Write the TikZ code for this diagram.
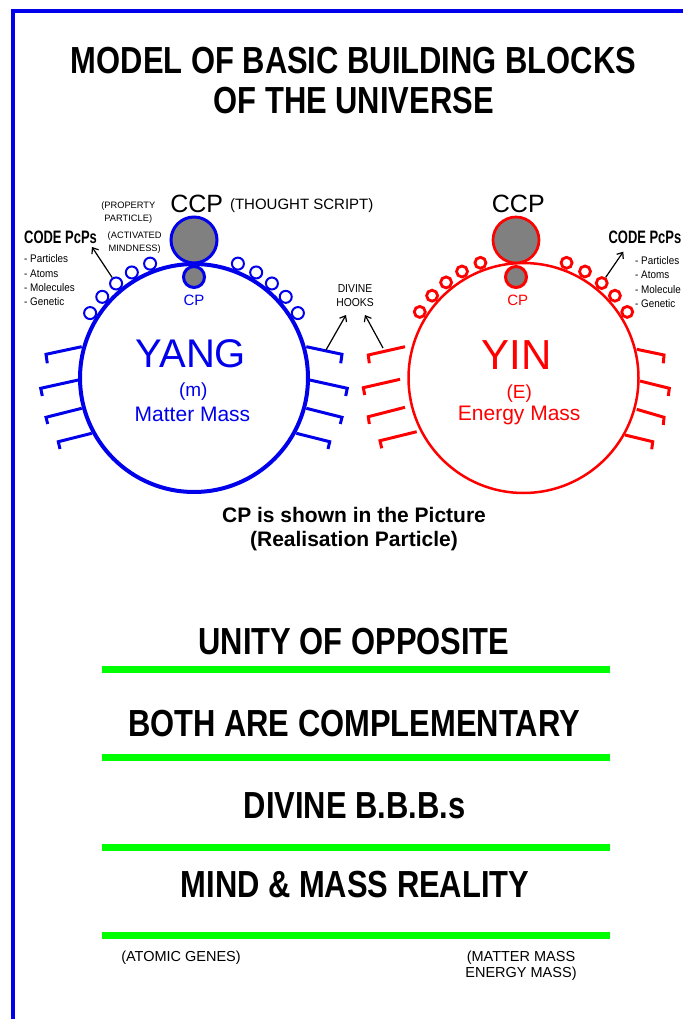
\documentclass[tikz,border=0pt]{standalone}
\usepackage{fontspec}
\setmainfont{Liberation Sans}
\newfontfamily\headfont[FakeStretch=0.82]{Liberation Sans}
\newfontfamily\codefont[FakeStretch=0.72]{Liberation Sans}
\newfontfamily\narrowfont[FakeStretch=0.9]{Liberation Sans}
\usetikzlibrary{calc,arrows.meta}

\definecolor{yangblue}{RGB}{0,0,235}
\definecolor{yinred}{RGB}{255,0,0}
\definecolor{bargreen}{RGB}{0,255,0}
\definecolor{cpgray}{RGB}{128,128,128}

\newcommand{\fsz}[2]{\fontsize{#1}{#2}\selectfont}

\tikzset{
	framestroke/.style={draw=yangblue, line width=4pt},
	yangring/.style={circle, draw=yangblue, line width=4pt, minimum size=228pt, inner sep=0pt},
	yinring/.style={circle, draw=yinred, line width=2.5pt, minimum size=230pt, inner sep=0pt},
	ccpball/.style={circle, fill=cpgray, line width=3pt, minimum size=46pt, inner sep=0pt},
	cpball/.style={circle, fill=cpgray, line width=3pt, minimum size=21pt, inner sep=0pt},
	yangbead/.style={circle, draw=yangblue, fill=white, line width=2pt, minimum size=12pt, inner sep=0pt},
	yinbead/.style={circle, draw=yinred, fill=white, line width=2.8pt, minimum size=11pt, inner sep=0pt},
	yanghook/.style={draw=yangblue, line width=3pt},
	yinhook/.style={draw=yinred, line width=3pt},
	greenbar/.style={draw=bargreen, line width=7pt},
	pointer/.style={-{Straight Barb[length=5pt,width=8pt]}, line width=1.2pt},
	headline/.style={font=\headfont\bfseries\fsz{37.7}{40}, inner sep=0pt},
	codehead/.style={font=\codefont\bfseries\fsz{18}{18}, inner sep=0pt},
	codeitem/.style={font=\narrowfont\fsz{11}{11}, inner sep=0pt, anchor=west},
	notetext/.style={font=\fsz{9.3}{12.8}, align=center, inner sep=0pt},
	plaintext/.style={font=\fsz{14.5}{16}, align=center, inner sep=0pt}
}

\begin{document}
\begin{tikzpicture}[x=1pt, y=-1pt]

	\useasboundingbox (0,0) rectangle (683,1019);

	% frame
	\draw[framestroke] (13,1019) -- (13,11) -- (683,11);

	% heading
	\node[headline] (title) at (353.5,60.5) {MODEL OF BASIC BUILDING BLOCKS};
	\node[headline] (subtitle) at (353.7,100.5) {OF THE UNIVERSE};

	% yang
	\node[yangring] (yang) at (194,378) {};
	\foreach \a/\b/\c/\d/\e/\f in {81.7/346.7/46/354.3/47.3/363.3, 78.3/380/40.7/388.3/42.3/396,
		81.7/408.3/46/417.3/47.7/424, 91.7/433.3/58.3/441.7/60/449,
		306.3/346.7/342/354.3/340.7/363.3, 309.7/380/347.3/388.3/345.7/396,
		306.3/408.3/342/417.3/340.3/424, 296.3/433.3/329.7/441.7/328/449}
		\draw[yanghook] (\a,\b) -- (\c,\d) -- (\e,\f);
	\foreach \a [count=\i] in {111,120.5,129.5,138.5,148,69,59.5,50.5,41.5,32}
		\node[yangbead] (yangbead\i) at ($(yang)+(\a:122.5pt)$) {};
	\node[ccpball, draw=yangblue] (yangccp) at (194,240) {};
	\node[cpball, draw=yangblue] (yangcp) at (194,277) {};
	\node[font=\fsz{15}{15}, text=yangblue, inner sep=0pt] (yangcplabel) at (194,300.7) {CP};
	\node[font=\fsz{25}{25}, inner sep=0pt] (yangccplabel) at (196.7,204) {CCP};
	\node[font=\fsz{15}{15}, inner sep=0pt] (thought) at (301.7,205.3) {(THOUGHT SCRIPT)};
	\node[notetext] (property) at (128.3,212.5) {(PROPERTY\\PARTICLE)};
	\node[notetext] (activated) at (134.7,242.8) {(ACTIVATED\\MINDNESS)};

	\node[font=\fsz{40}{40}, text=yangblue, inner sep=0pt] (yangname) at (190.8,354.2) {YANG};
	\node[font=\fsz{19}{19}, text=yangblue, inner sep=0pt] (yangm) at (193.3,391.7) {(m)};
	\node[font=\fsz{21}{21}, text=yangblue, inner sep=0pt] (yangmass) at (192.5,414.3) {Matter Mass};

	\node[codehead, anchor=west] (yangcode) at (24,237) {CODE PcPs};
	\foreach \t [count=\i] in {Particles,Atoms,Molecules,Genetic}
		\node[codeitem] (yangitem\i) at (24,244.6+14.35*\i) {- \t};
	\coordinate (yangcodetip) at (92,247);
	\draw[pointer] (yangbead3) -- (yangcodetip);

	% yin
	\node[yinring] (yin) at (523.5,378) {};
	\foreach \a/\b/\c/\d/\e/\f in {405/346.7/368.3/355/369.3/363.3, 400/379.3/363.3/387.7/364.7/395,
		405/407.3/368.3/416.7/369.3/424, 416.7/431.7/380/440.7/381.7/448.3,
		636.7/349.3/664/355/663.3/363.3, 640/381/669.3/388.3/668.3/396,
		636.7/409.3/664/417.3/663.3/425, 625/435/652.7/441.7/651.7/449.3}
		\draw[yinhook] (\a,\b) -- (\c,\d) -- (\e,\f);
	\foreach \a [count=\i] in {110.5,120,129,138,147.5,69.5,60,50.5,42,32.5}
		\node[yinbead] (yinbead\i) at ($(yin)+(\a:123pt)$) {};
	\node[ccpball, draw=yinred, line width=2.7pt] (yinccp) at (516,240) {};
	\node[cpball, draw=yinred] (yincp) at (516,277) {};
	\node[font=\fsz{15}{15}, text=yinred, inner sep=0pt] (yincplabel) at (517.7,300.7) {CP};
	\node[font=\fsz{25}{25}, inner sep=0pt] (yinccplabel) at (518.3,204) {CCP};

	\node[font=\fsz{42}{42}, text=yinred, inner sep=0pt] (yinname) at (516.7,355) {YIN};
	\node[font=\fsz{19}{19}, text=yinred, inner sep=0pt] (yine) at (519.3,393.3) {(E)};
	\node[font=\fsz{21}{21}, text=yinred, inner sep=0pt] (yinmass) at (519.2,415) {Energy Mass};

	\node[codehead, anchor=east] (yincode) at (681.5,237.3) {CODE PcPs};
	\foreach \t [count=\i] in {Particles,Atoms,Molecule,Genetic}
		\node[codeitem] (yinitem\i) at (635,246.5+14.2*\i) {- \t};
	\coordinate (yincodetip) at (623.3,251.7);
	\draw[pointer] (yinbead8) -- (yincodetip);

	% divine hooks
	\node[font=\narrowfont\fsz{11.5}{14.4}, align=center, inner sep=0pt] (divine) at (355,295.5) {DIVINE\\HOOKS};
	\coordinate (divineleft) at (326,350);
	\coordinate (divineright) at (383,348);
	\coordinate (divinelefttip) at (346,315);
	\coordinate (divinerighttip) at (365,315);
	\draw[pointer] (divineleft) -- (divinelefttip);
	\draw[pointer] (divineright) -- (divinerighttip);

	% caption
	\node[font=\bfseries\fsz{21}{24}, align=center, inner sep=0pt] (caption) at (354,529) {CP is shown in the Picture\\(Realisation Particle)};

	% statements
	\node[headline] (unity) at (354,641.7) {UNITY OF OPPOSITE};
	\node[headline] (complement) at (354,723.3) {BOTH ARE COMPLEMENTARY};
	\node[headline] (bbbs) at (354.5,805.8) {DIVINE B.B.B.s};
	\node[headline] (mindmass) at (355,885) {MIND \& MASS REALITY};
	\foreach \y in {669,757,847,935}
		\draw[greenbar] (102,\y) -- (610,\y);

	\node[plaintext] (atomic) at (181,958) {(ATOMIC GENES)};
	\node[plaintext] (mattermass) at (521,966) {(MATTER MASS\\ENERGY MASS)};

\end{tikzpicture}
\end{document}
